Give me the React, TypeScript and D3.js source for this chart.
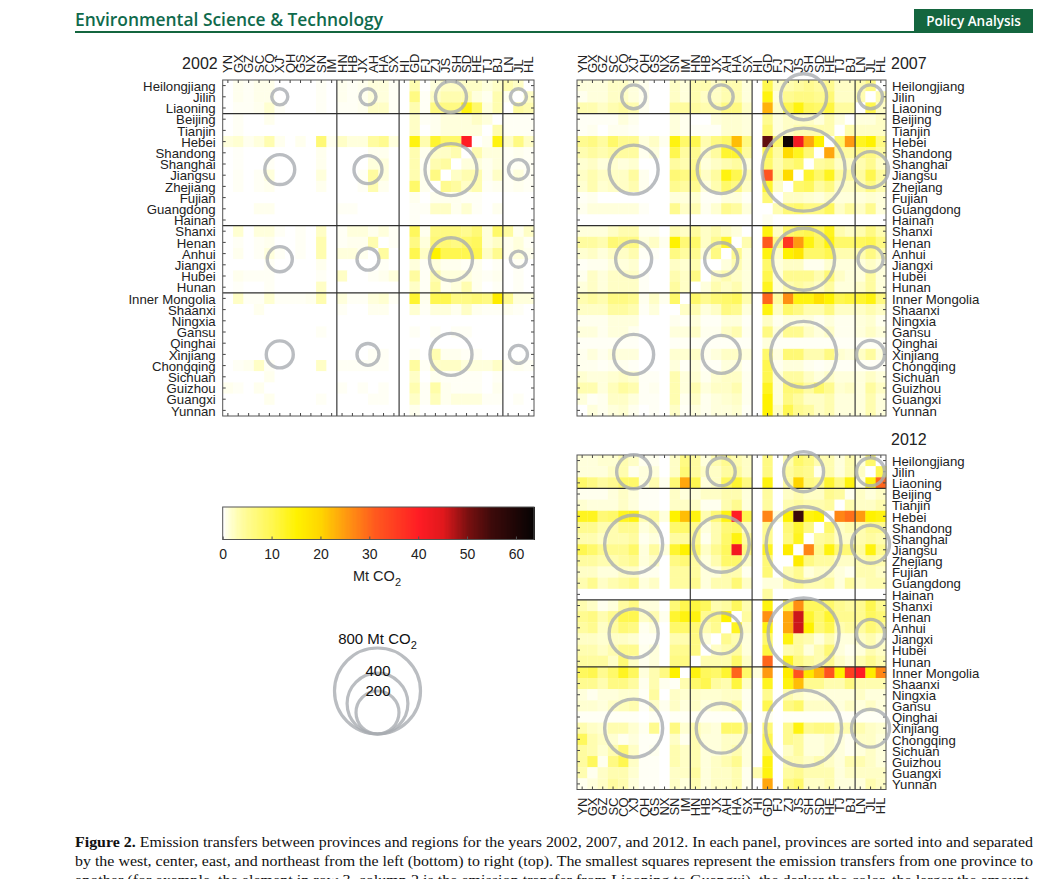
import React, { useEffect, useRef } from "react";
import * as d3 from "d3";

const rowNames = ["Heilongjiang", "Jilin", "Liaoning", "Beijing", "Tianjin", "Hebei", "Shandong", "Shanghai", "Jiangsu", "Zhejiang", "Fujian", "Guangdong", "Hainan", "Shanxi", "Henan", "Anhui", "Jiangxi", "Hubei", "Hunan", "Inner Mongolia", "Shaanxi", "Ningxia", "Gansu", "Qinghai", "Xinjiang", "Chongqing", "Sichuan", "Guizhou", "Guangxi", "Yunnan"];
const colNames = ["YN", "GX", "GZ", "SC", "CQ", "XJ", "QH", "GS", "NX", "SN", "IM", "HN", "HB", "JX", "AH", "HA", "SX", "HI", "GD", "FJ", "ZJ", "JS", "SH", "SD", "HE", "TJ", "BJ", "LN", "JL", "HL"];

// rows top to bottom, columns left to right, Mt CO2
const values2002 = [
  [0,.5,.3,.6,.6,0,0,0,0,.3,0,.5,.3,.5,1,1,.3,0,3,0,1,2,2,2,2,1,2,3,2,0],
  [0,.5,.3,.6,.6,0,0,0,0,.3,0,.5,.3,.5,1,1,.3,0,6,.3,2,3,3,3,1,.5,3,.5,0,2],
  [0,.3,.3,.5,1.5,.3,0,0,0,.3,0,.3,.3,.5,2,2,.3,0,3,.3,6,6,6,14,8,1,3,0,4,3],
  [0,.3,0,0,.5,0,0,0,0,0,0,0,0,0,0,0,0,0,2,.3,.5,1,1,1,2,1,0,.3,.3,.3],
  [0,.3,0,0,0,0,0,0,0,0,0,0,0,0,0,0,0,0,2,0,.5,1,1,1,1,0,3,.3,.3,.3],
  [1,1.5,.5,1,3,.5,0,.5,0,7,.5,2,1,1,4,5,1,0,14,3,12,8,8,40,0,.5,14,2,6,2],
  [0,.2,0,0,0,0,0,0,0,.5,0,0,0,0,.5,.5,0,0,3,.5,2,2,3,0,3,1,1,.3,.5,.3],
  [0,.2,0,0,.3,0,0,0,0,.5,0,0,0,0,1,1,0,0,3,.3,3,4,0,1,1,.5,1,.3,.3,.3],
  [0,.3,0,.3,1,0,0,0,0,1,0,0,0,.3,4,1,0,0,3,.5,6,0,2,3,3,.5,2,.3,1,.3],
  [0,.3,0,.3,.5,0,0,0,0,.5,0,0,0,.3,3,.5,0,0,8,.5,0,5,4,2,3,.3,.5,.3,.5,.3],
  [0,0,0,0,0,0,0,0,0,0,0,0,0,0,0,0,0,0,.5,0,.5,.5,.5,.3,.3,0,0,0,0,0],
  [0,0,0,.5,.5,0,0,0,0,0,0,.3,.3,0,0,0,0,0,.3,.3,2,2,.5,1.5,.3,0,.5,0,0,0],
  [0,0,0,0,0,0,0,0,0,0,0,0,0,0,0,0,0,0,.3,0,0,0,0,0,0,0,0,0,0,0],
  [0,1.5,0,1,1,.3,0,.3,0,2,0,.3,1,1,.5,1,.3,0,9,.5,6,6,6,5,7,1,8,4,.5,2],
  [0,.3,0,.3,.5,0,0,.3,0,3,0,.3,.5,.5,3,0,.3,0,6,1,7,7,6,8,9,1,2,.5,1,.3],
  [0,.5,0,.3,1,.3,0,.3,0,3,0,1,1,.5,0,4,0,0,10,2,15,10,10,10,10,2,5,.5,1,.5],
  [0,0,0,0,.3,0,0,0,0,.5,0,0,0,0,0,.3,0,0,1,.3,1,.5,.5,.3,.5,0,.3,0,.3,0],
  [0,.5,.3,.3,.3,0,0,0,0,.3,0,2,0,0,.3,.5,1,0,4,.3,3,1,1,1,.5,.3,.5,0,.3,0],
  [0,.2,0,0,.3,0,0,0,0,2,0,0,0,0,0,0,0,0,2,.3,4,.5,1,3,.5,0,.3,0,.3,0],
  [0,2,.3,.3,1.5,.3,.3,.3,.5,3,0,1,.3,.3,1,1.5,.3,0,12,.5,10,10,6,6,7,6,16,5,1,1],
  [0,0,0,.5,0,0,0,0,0,0,0,.3,0,0,.5,.5,0,0,1.5,.3,1,1,.5,2,.5,.3,.3,.5,.3,0],
  [0,0,0,0,0,0,0,0,0,0,0,0,0,0,0,0,0,0,0,0,0,0,0,0,0,0,0,0,0,0],
  [0,0,0,0,0,0,0,0,0,.3,0,0,0,0,0,0,0,0,.3,0,.3,0,.3,.3,0,0,0,0,0,0],
  [0,0,0,0,0,0,0,0,0,0,0,0,0,0,0,0,0,0,0,0,0,0,0,0,0,0,0,0,0,0],
  [0,0,0,0,0,0,0,0,0,0,0,0,0,0,.3,.3,0,0,.3,0,3,.5,.5,.3,.3,0,0,0,0,0],
  [0,.3,.5,2,.3,0,0,0,0,2,0,.3,.3,.3,.3,.3,0,0,4,.3,2,2,2,1,1,1,2,.3,.5,.3],
  [0,0,0,0,.5,0,0,0,0,0,0,0,0,0,0,0,0,0,2,0,.5,.3,.3,.3,.3,0,.3,0,0,0],
  [.5,.3,0,.5,0,0,0,0,0,0,0,.3,0,.3,0,.3,0,0,3,.3,3.5,.5,.3,.3,.3,0,.5,0,0,0],
  [0,0,0,0,.5,0,0,0,0,.3,0,0,0,0,.3,.3,0,0,2,.3,2.5,.5,1,1,1,.3,.3,0,.3,0],
  [0,0,0,0,0,0,0,0,0,0,0,0,0,0,0,0,0,0,.5,0,0,0,0,0,0,0,0,0,0,0],
];

const values2007 = [
  [1,1,1,2,2,1,.5,0,0,2,1,3,3,2,3,3,1,0,10,2,3,4,5,4,5,2,2,3,6,0],
  [.5,1,1,2,2,1,.5,0,0,2,1,3,2,2,3,3,1,0,14,1,5,6,6,5,7,2,2,3,0,3],
  [3,3,2,3,4,3,.5,0,0,4,4,4,3,3,6,6,2,0,23,2,10,14,9,8,11,4,4,0,10,2],
  [.3,.3,.3,.3,1,.5,0,0,0,1,.5,0,0,1,1.5,1.5,1,0,5,1,2,2,2,1,3,1,0,1,1,2],
  [.3,.5,0,.5,.5,.3,0,0,0,1,.5,.3,.3,.3,1.5,1.5,1,0,7,1,2,3,3,3,3,0,3,2,2,2],
  [5,6,4,8,5,5,1,2,.5,14,8,10,3,6,8,22,6,0,52,8,62,42,24,15,0,8,25,13,15,6],
  [3,4,3,4,4,4,.5,1,0,10,4,5,2,4,12,12,4,0,10,4,19,13,7,0,24,4,4,6,6,4],
  [1.5,2,1,1.5,1,1.5,0,0,0,4,3,5,1,2,3,4,1,0,8,3,6,8,0,4,5,2,2,3,5,2],
  [2,3,2,2,2,4,.5,0,0,7,6,7,2,4,14,10,3,0,32,4,19,0,12,8,13,4,4,4,10,4],
  [1.5,3,1.5,2,2,3,.5,0,0,5,4,5,1,3,8,6,2,0,12,2,0,8,9,4,6,2,2,3,6,3],
  [.3,.5,0,0,0,0,0,0,0,1,1,1.5,.3,.3,1,1,.3,0,7,0,2,2,1.5,1,2,1,1,1,1.5,1],
  [.5,1,1,1,1,1,.3,0,0,5,2,3,.5,1.5,5,4,1,0,0,3,7,8,6,6,9,2,4,2,5,1],
  [0,0,0,0,0,0,0,0,0,0,0,0,0,0,0,0,0,0,.5,0,0,0,0,0,0,0,0,0,0,0],
  [1,1,1,2,3,3,.5,.5,0,3,2,4,2,3,2,1,0,0,14,2,8,9,10,8,13,3,2,3,6,3],
  [4,4,3,7,6,6,1,2,.5,15,7,8,2,5,12,0,3,0,31,6,36,25,14,9,14,8,8,9,10,6],
  [1.5,2,1,2,2,3,.3,.3,0,6,4,5,1,6,0,5,1,0,14,2,15,17,8,8,10,3,3,3,6,3],
  [.3,.5,.5,1,1,1.5,0,0,0,2,1.5,3,0,0,1,3,1,0,8,1,2,2,.5,.5,1.5,1,1,1,2,1],
  [.5,2,1,2,2,2,.3,0,0,3,2,6,0,2,3,2,1,0,10,1,5,5,5,3,7,2,1,1,4,1],
  [1,2,1,2,2,2,.3,0,0,4,2,0,1,3,2,3,1,0,13,1,3,4,3,2,4,1,1,2,4,1],
  [3,4,3,6,6,5,.5,2,.5,8,0,8,5,7,8,9,3,0,30,4,26,14,14,18,15,10,11,12,14,6],
  [2,2,2,4,4,3,.3,1,0,0,2,3,1,2,6,5,1,0,14,2,8,6,3,3,6,2,2,2,3,2],
  [.5,.5,.5,1,1,1,0,0,0,.5,.3,1,.3,.3,1,1,.3,0,2,.5,1,1,1,.5,1,.5,.5,1,1.5,.5],
  [1,1,.5,1,1,.5,0,0,0,1,1,2,.5,.5,2,3,.5,0,6,1,5,5,2,1,2,.5,.5,1,2,1],
  [.3,.3,.3,.3,.3,.3,0,0,0,.3,.3,.3,.3,.3,.3,.3,.3,0,1,.3,.3,.3,.3,.3,.3,.3,.3,.3,.3,.3],
  [.5,1,.5,1,1,1,0,0,0,1.5,1.5,2,.5,1,2,2,1,0,8,1,7,7,3,3,6,1.5,1,2,4,1],
  [.5,.5,.3,.5,.5,.3,0,0,0,1,.3,1,.3,.3,1,1,.3,0,10,.5,1,1,.5,.3,.5,.3,.3,.3,.3,.3],
  [1.5,1,1,1.5,2,1.5,.3,.3,0,3,1,1.5,.5,1.5,2,2,.5,0,10,1,4,4,2,1,2,1,1,1,2,1],
  [3,3,1,2.5,4,3,.3,.5,0,3,1,3,1,2,2,3,.5,0,13,1,7,7,4,8,5,1.5,2,1,4,2],
  [1,.3,.5,2,2,1,.3,.3,0,3,.5,2,.5,1,1.5,2,.5,0,15,1,6,4,2,2,3,1,1,1,3,1],
  [0,1,.5,1,1.5,.5,0,.3,0,2,.3,1,.5,1,1,1.5,.3,0,15,2,10,5,4,2,3,1,1,1,3,1],
];

const values2012 = [
  [1,1,1.5,1.5,3,2,.5,.5,0,2,6,4,1,3,5,3,2,0,6,0,3,8,6,3,3,1,3,1,8,0],
  [1,1,1,2,3,.5,1,1,0,2,7,4,2,2,4,4,2,0,6,0,4,6,5,.5,3,1,3,2,0,10],
  [8,6,4,5,8,8,1,3,.5,7,24,10,1,2,9,12,6,0,14,0,4,20,6,5,12,6,14,1,14,30],
  [.5,.5,.5,1,2,1,.3,.3,0,2,1,1,2,2,3,3,1,0,4,0,2,3,2,2,5,4,.5,2,1,2],
  [1.5,1,1,1,2,1,.3,.3,0,2,2,2,.5,.5,3,5,1,0,4,0,3,4,3,3,4,0,3,2,2,3],
  [13,13,7,8,13,14,3,4,1,15,22,14,3,7,14,40,10,0,27,1,15,55,14,15,0,27,29,25,15,14],
  [5,5,3,3,5,5,1,2,0,8,8,5,1,3,7,8,2,0,5,0,7,12,6,0,8,2,3,3,5,5],
  [3,3,2,3,3,4,.5,1,0,4,4,5,.5,3,8,14,4,0,5,0,6,13,0,4,5,2,2,3,4,3],
  [10,8,5,5,5,8,1,4,1,12,15,8,2,5,9,42,6,0,13,0,16,0,27,5,14,7,7,4,14,5],
  [4,4,3,3,4,5,1,2,0,6,7,4,1,3,8,8,2,0,7,0,0,16,6,4,4,2,2,3,4,3],
  [2,2,1,1,2,2,.5,.5,0,4,4,4,1,1,3,3,.5,0,7,0,3,5,1,2,2,1,.5,3,3,2],
  [3,5,2,3,4,5,1,2,0,4,4,5,1,3,3,7,2,0,1,1,4,5,3,3,4,1,4,2,3,3],
  [0,0,0,0,0,0,0,0,0,0,0,0,0,0,0,0,0,0,4,0,0,0,0,0,0,0,0,0,0,0],
  [3,2,.5,1,4,6,1,1,0,7,10,11,9,3,4,9,3,0,14,0,10,26,9,9,8,5,4,5,10,5],
  [5,6,3,5,10,10,2,3,.5,12,14,14,5,6,15,0,4,0,26,0,24,46,12,8,12,5,5,5,9,7],
  [4,5,2,4,7,6,.5,1,0,8,8,7,3,5,0,13,2,0,14,0,24,46,15,7,10,3,4,4,7,5],
  [2,2,1.5,2,2,1.5,.3,.3,0,3,3,6,1,0,5,3,1,0,8,0,14,4,3,1,3,1,1,2,3,1.5],
  [3,3,2,3,5,5,.5,1,0,5,5,6,0,2,3,4,1,0,11,0,3,4,1,3,7,1,.5,1,3,2],
  [4,4,4,2,7,2,.5,1,0,6,6,0,3,3,3,8,2,0,30,0,13,6,4,3,5,2,1,3,5,3],
  [9,10,5,8,13,9,1,3,6,15,0,14,9,8,12,30,8,1,25,0,16,32,17,23,32,15,35,40,16,27],
  [5,5,3,6,6,4,.5,3,.5,.3,3,8,10,4,3,11,2,0,13,0,14,22,5,5,3,3,6,3,3,3],
  [1,.5,1,1,1.5,1.5,.3,4,0,2,1.5,2,1.5,1.5,2,2,.5,0,5,0,3,2,1,1,1,1,1,2,1,1],
  [1.5,1.5,1,2,2.5,3,.3,2,.5,2,1,2,1,1.5,2,4,.5,0,10,0,6,8,2,2,2,1,2,1,2,1],
  [.3,.3,.3,.3,.3,.3,0,.3,0,.3,.3,.3,.3,.3,.3,.3,0,0,.5,0,.3,.3,.3,.3,.3,.3,.3,.3,.3,.3],
  [3,2,1.5,3,3,1.5,.5,5,0,6,1.5,3,1.5,1,8,8,3,0,7,0,5,14,5,6,6,3,3,3,2,1.5],
  [9,3,2,1.5,.5,1,.3,.3,0,2,.5,3,1,1,2,2,1,0,10,0,5,4,1,1,2,1,.5,2,2,1],
  [4,3,1.5,3,7,2,.3,.5,0,3,2,3,1,1,2,3,1,0,10,0,2,4,1,1,2,1,.5,1,2,1],
  [4,9,.5,6,10,2,.3,.3,0,3,2,3,1,2,3,5,1,0,14,0,3,3,2,3,2,1,3,3,2,1],
  [3,.5,2,3,3,1.5,.3,.3,0,2,2,4,1,2,2,3,.5,3,14,0,4,5,3,3,3,1,2,2,2,2],
  [.5,1,2,4,3,1,.3,.3,0,2,1,3,1,2,2,3,.5,0,24,0,6,8,2,2,3,1,1,1,3,2],
];

// circle totals per region block (rows NE/E/C/W by columns W/C/E/NE), Mt CO2
const totals2002 = [[28, 28, 104, 28], [97, 85, 292, 43], [68, 52, 200, 28], [79, 52, 191, 35]];
const totals2007 = [[62, 62, 229, 62], [260, 249, 745, 140], [140, 118, 416, 68], [173, 156, 471, 85]];
const totals2012 = [[125, 85, 173, 85], [364, 339, 608, 156], [260, 182, 545, 85], [364, 270, 625, 156]];

const rowBreaks = [0, 3, 13, 19, 30];
const colBreaks = [0, 11, 17, 27, 30];

const colorTicks = [0, 10, 20, 30, 40, 50, 60];
const legendTotals = [800, 400, 200];
const legendLabels = ["800 Mt CO", "400", "200"];

const color = d3
  .scaleLinear<string>()
  .domain([0, 1, 3, 5, 10, 15, 20, 25, 31, 40, 45, 50, 55, 63.7])
  .range(["#ffffff", "#ffffdc", "#fffdb0", "#fffb90", "#fff750", "#fff200", "#ffd500", "#ff9a10", "#ff5a1e", "#ff1c24", "#e0181c", "#7a1010", "#3c0a0a", "#050303"])
  .clamp(true);

const radius = d3.scaleSqrt().domain([0, 800]).range([0, 43]);

const font = "'Liberation Sans', Arial, sans-serif";

const App: React.FC = () => {
  const ref = useRef<SVGSVGElement>(null);

  useEffect(() => {
    const svg = d3.select(ref.current);
    svg.selectAll("*").remove();

    // page header
    svg.append("text").attr("x", 75).attr("y", 26).attr("fill", "#0f6a4c")
      .attr("font-family", "'Open Sans'").attr("font-size", 18.5).attr("font-weight", 600)
      .attr("textLength", 308).attr("lengthAdjust", "spacingAndGlyphs").text("Environmental Science & Technology");
    svg.append("rect").attr("x", 75).attr("y", 31).attr("width", 958).attr("height", 2).attr("fill", "#14663f");
    svg.append("rect").attr("x", 914).attr("y", 9).attr("width", 119).attr("height", 23).attr("fill", "#14663f");
    svg.append("text").attr("x", 973.5).attr("y", 26).attr("fill", "#fff").attr("text-anchor", "middle")
      .attr("font-family", "'Open Sans'").attr("font-size", 13.5).attr("font-weight", 600).text("Policy Analysis");

    function drawPanel(values: number[][], totals: number[][], year: string, x0: number, y0: number, w: number, h: number, rowSide: "left" | "right", colSide: "top" | "bottom") {
      const x = d3.scaleBand().domain(colNames).range([x0, x0 + w]);
      const y = d3.scaleBand().domain(rowNames).range([y0, y0 + h]);
      const g = svg.append("g");

      g.selectAll("g.row")
        .data(values)
        .join("g")
        .attr("class", "row")
        .selectAll("rect")
        .data((row, i) => row.map((v, j) => ({ v, i, j })))
        .join("rect")
        .attr("x", (d) => x(colNames[d.j])!)
        .attr("y", (d) => y(rowNames[d.i])!)
        .attr("width", x.bandwidth() + 0.3)
        .attr("height", y.bandwidth() + 0.3)
        .attr("fill", (d) => color(d.v));

      const styleAxis = (a: any, size: number) => {
        a.select(".domain").remove();
        a.selectAll("line").attr("stroke", "#444");
        a.attr("font-family", font).attr("font-size", size).selectAll("text").attr("fill", "#222");
      };

      // row ticks on both sides, names on one of them
      const left = g.append("g").attr("transform", `translate(${x0},0)`)
        .call(d3.axisLeft(y).tickSize(-3).tickPadding(rowSide === "left" ? 7 : 0).tickFormat((d) => (rowSide === "left" ? d : "")));
      const right = g.append("g").attr("transform", `translate(${x0 + w},0)`)
        .call(d3.axisRight(y).tickSize(-3).tickPadding(rowSide === "right" ? 6 : 0).tickFormat((d) => (rowSide === "right" ? d : "")));
      styleAxis(left, 13.2);
      styleAxis(right, 13.2);
      left.selectAll("text").attr("y", 1);
      right.selectAll("text").attr("y", 1);

      // column ticks on both sides, codes rotated on one of them
      const top = g.append("g").attr("transform", `translate(0,${y0})`)
        .call(d3.axisTop(x).tickSize(-3).tickFormat((d) => (colSide === "top" ? d : "")));
      const bottom = g.append("g").attr("transform", `translate(0,${y0 + h})`)
        .call(d3.axisBottom(x).tickSize(-3).tickFormat((d) => (colSide === "bottom" ? d : "")));
      styleAxis(top, 13);
      styleAxis(bottom, 13);
      top.selectAll("text").attr("y", 0).attr("x", 7).attr("dy", ".35em").attr("text-anchor", "start").attr("transform", "rotate(-90)");
      bottom.selectAll("text").attr("y", 0).attr("x", -8).attr("dy", ".35em").attr("text-anchor", "end").attr("transform", "rotate(-90)");

      // region separators
      const xEdge = (c: number) => x0 + (w * c) / colNames.length;
      const yEdge = (r: number) => y0 + (h * r) / rowNames.length;
      colBreaks.slice(1, -1).forEach((c) => {
        g.append("line").attr("x1", xEdge(c)).attr("x2", xEdge(c)).attr("y1", y0).attr("y2", y0 + h).attr("stroke", "#3a3a3a").attr("stroke-width", 1.2);
      });
      rowBreaks.slice(1, -1).forEach((r) => {
        g.append("line").attr("x1", x0).attr("x2", x0 + w).attr("y1", yEdge(r)).attr("y2", yEdge(r)).attr("stroke", "#2e2e2e").attr("stroke-width", 1.2);
      });
      g.append("rect").attr("x", x0).attr("y", y0).attr("width", w).attr("height", h).attr("fill", "none").attr("stroke", "#555").attr("stroke-width", 1);

      // block totals
      totals.forEach((rowTotals, r) =>
        rowTotals.forEach((t, c) => {
          g.append("circle")
            .attr("cx", (xEdge(colBreaks[c]) + xEdge(colBreaks[c + 1])) / 2)
            .attr("cy", (yEdge(rowBreaks[r]) + yEdge(rowBreaks[r + 1])) / 2)
            .attr("r", radius(t))
            .attr("fill", "none")
            .attr("stroke", "#a9adb2")
            .attr("stroke-opacity", 0.8)
            .attr("stroke-width", 3.4);
        })
      );

      g.append("text")
        .attr("x", rowSide === "left" ? x0 - 5 : x0 + w + 5)
        .attr("y", colSide === "top" ? y0 - 11 : y0 - 10)
        .attr("text-anchor", rowSide === "left" ? "end" : "start")
        .attr("font-family", font).attr("font-size", 16).attr("fill", "#222")
        .text(year);
    }

    drawPanel(values2002, totals2002, "2002", 222.7, 80, 311.3, 336, "left", "top");
    drawPanel(values2007, totals2007, "2007", 577, 80, 309, 336, "right", "top");
    drawPanel(values2012, totals2012, "2012", 577, 455, 309, 334.5, "right", "bottom");

    // color bar
    const barX = d3.scaleLinear().domain([0, 63.7]).range([222.7, 534]);
    const bar = svg.append("g").attr("shape-rendering", "crispEdges");
    bar.selectAll("rect")
      .data(d3.range(0, 63.6, 0.25))
      .join("rect")
      .attr("x", (d) => barX(d))
      .attr("y", 507)
      .attr("width", barX(0.25) - barX(0) + 1)
      .attr("height", 32.5)
      .attr("fill", (d) => color(d));
    svg.append("rect").attr("x", 222.7).attr("y", 507).attr("width", 311.3).attr("height", 32.5).attr("fill", "none").attr("stroke", "#555");
    const barAxis = svg.append("g").attr("transform", "translate(0,539.5)")
      .call(d3.axisBottom(barX).tickValues(colorTicks).tickSize(-3).tickPadding(10));
    barAxis.select(".domain").remove();
    barAxis.attr("font-family", font).attr("font-size", 14).selectAll("text").attr("fill", "#222");
    barAxis.selectAll("line").attr("stroke", "#555");

    const unit = svg.append("text").attr("x", 377).attr("y", 581).attr("text-anchor", "middle")
      .attr("font-family", font).attr("font-size", 14.5).attr("fill", "#222");
    unit.append("tspan").text("Mt CO");
    unit.append("tspan").attr("dy", 5).attr("font-size", 11).text("2");

    // size legend, circles share a bottom point
    const legendBottom = 734;
    const legend = svg.append("g");
    legend.selectAll("circle")
      .data(legendTotals)
      .join("circle")
      .attr("cx", 377.5)
      .attr("cy", (d) => legendBottom - radius(d))
      .attr("r", (d) => radius(d))
      .attr("fill", "none")
      .attr("stroke", "#a9adb2")
      .attr("stroke-opacity", 0.8)
      .attr("stroke-width", 3.2);
    const l800 = legend.append("text").attr("x", 377.5).attr("y", 644).attr("text-anchor", "middle")
      .attr("font-family", font).attr("font-size", 15).attr("fill", "#111");
    l800.append("tspan").text(legendLabels[0]);
    l800.append("tspan").attr("dy", 5).attr("font-size", 11).text("2");
    legend.append("text").attr("x", 378).attr("y", 676).attr("text-anchor", "middle")
      .attr("font-family", font).attr("font-size", 15).attr("fill", "#111").text(legendLabels[1]);
    legend.append("text").attr("x", 378).attr("y", 696).attr("text-anchor", "middle")
      .attr("font-family", font).attr("font-size", 15).attr("fill", "#111").text(legendLabels[2]);

    // caption, clipped by the page edge on its last line
    const serif = "'Liberation Serif', serif";
    const line1 = svg.append("text").attr("x", 75).attr("y", 847).attr("font-family", serif).attr("font-size", 14.6).attr("fill", "#111").attr("textLength", 958).attr("lengthAdjust", "spacingAndGlyphs");
    line1.append("tspan").attr("font-weight", 700).text("Figure 2.");
    line1.append("tspan").text(" Emission transfers between provinces and regions for the years 2002, 2007, and 2012. In each panel, provinces are sorted into and separated");
    svg.append("text").attr("x", 75).attr("y", 866).attr("font-family", serif).attr("font-size", 14.6).attr("fill", "#111").attr("textLength", 958).attr("lengthAdjust", "spacingAndGlyphs")
      .text("by the west, center, east, and northeast from the left (bottom) to right (top). The smallest squares represent the emission transfers from one province to");
    svg.append("text").attr("x", 75).attr("y", 885).attr("font-family", serif).attr("font-size", 14.6).attr("fill", "#111").attr("textLength", 958).attr("lengthAdjust", "spacingAndGlyphs")
      .text("another (for example, the element in row 3, column 2 is the emission transfer from Liaoning to Guangxi), the darker the color, the larger the amount.");
  }, []);

  return <svg ref={ref} width={1063} height={879} style={{ position: "absolute", left: 0, top: 0, background: "#fff" }} />;
};

export default App;
